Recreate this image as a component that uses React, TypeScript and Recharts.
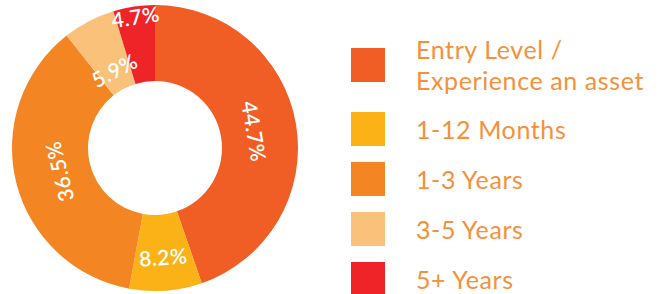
import { PieChart, Pie, Cell, Legend } from "recharts";

const categories = [
  "Entry Level / Experience an asset",
  "1-12 Months",
  "1-3 Years",
  "3-5 Years",
  "5+ Years",
];
const shares = [44.7, 8.2, 36.5, 5.9, 4.7];
const colors = ["#F15E25", "#FBB216", "#F38622", "#F9C17A", "#EE2428"];

const data = categories.map((name, i) => ({ name, value: shares[i] }));

const CX = 155;
const CY = 148;
const INNER = 67;
const OUTER = 143;
// how far into the ring each label sits (0 = inner edge, 1 = outer edge)
const labelDepth = [0.45, 0.55, 0.42, 0.28, 0.87];
const RAD = Math.PI / 180;

const renderLabel = (props: any) => {
  const { midAngle, index, value } = props;
  const r = INNER + (OUTER - INNER) * labelDepth[index];
  const x = CX + r * Math.cos(-midAngle * RAD);
  const y = CY + r * Math.sin(-midAngle * RAD);
  // clockwise angle from 12 o'clock
  let theta = (90 - midAngle + 360) % 360;
  let rot = theta <= 90 ? theta : theta <= 200 ? theta - 180 : theta - 360;
  return (
    <text
      x={x}
      y={y}
      fill="#fff"
      fontSize={21}
      fontWeight={600}
      fontFamily="Lato, sans-serif"
      letterSpacing={0.5}
      textAnchor="middle"
      dominantBaseline="central"
      transform={`rotate(${rot}, ${x}, ${y})`}
    >
      {value}%
    </text>
  );
};

const renderLegend = () => (
  <div
    style={{
      position: "absolute",
      left: 351,
      top: 34,
      display: "flex",
      flexDirection: "column",
      gap: 16,
      fontFamily: "Lato, sans-serif",
      fontSize: 25,
      letterSpacing: 0.6,
      lineHeight: "31px",
      color: "#F4913A",
    }}
  >
    {data.map((d, i) => (
      <div key={d.name} style={{ display: "flex", alignItems: "center" }}>
        <div style={{ width: 34, height: 34, background: colors[i], marginRight: 31, flexShrink: 0 }} />
        <div style={{ width: 250 }}>{d.name}</div>
      </div>
    ))}
  </div>
);

export default function App() {
  return (
    <div style={{ position: "absolute", left: 0, top: 0, width: 669, height: 294, background: "#fff" }}>
      <PieChart width={669} height={294} margin={{ top: 0, right: 0, bottom: 0, left: 0 }}>
        <Pie
          data={data}
          dataKey="value"
          nameKey="name"
          cx={CX}
          cy={CY}
          innerRadius={INNER}
          outerRadius={OUTER}
          startAngle={90}
          endAngle={-270}
          stroke="none"
          label={renderLabel}
          labelLine={false}
          isAnimationActive={false}
        >
          {data.map((d, i) => (
            <Cell key={d.name} fill={colors[i]} />
          ))}
        </Pie>
        <Legend content={renderLegend} wrapperStyle={{ position: "absolute", left: 0, top: 0, width: 669, height: 294 }} />
      </PieChart>
    </div>
  );
}
